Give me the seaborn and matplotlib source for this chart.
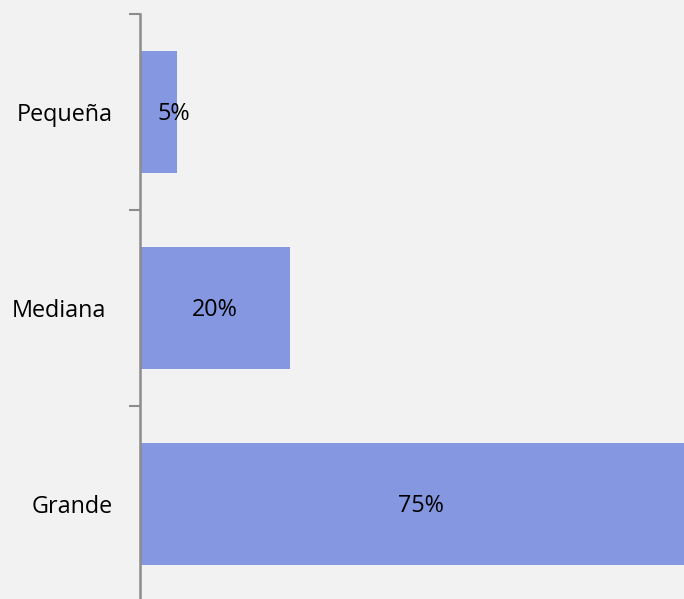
import matplotlib
matplotlib.use("Agg")
import matplotlib.pyplot as plt
import matplotlib.transforms as mtransforms
import seaborn as sns
import pandas as pd

categories = ["Pequeña", "Mediana", "Grande"]
values = [5, 20, 75]
labels = ["5%", "20%", "75%"]

sns.set_theme(style="white")
plt.rcParams['font.family'] = ['Open Sans', 'DejaVu Sans']

bg = "#f2f2f2"
bar_color = "#8497e0"

fig = plt.figure(figsize=(6.84, 5.99), dpi=100, facecolor=bg)
ax = fig.add_axes([139.5 / 684, -3 / 599, 1 - 139.5 / 684, 588 / 599])
ax.set_facecolor(bg)

df = pd.DataFrame({"cat": categories, "val": values})
sns.barplot(data=df, x="val", y="cat", color=bar_color, saturation=1,
            width=0.62, ax=ax, orient="h", linewidth=0, edgecolor="none")

ax.set_xlim(0, 72.5)
ax.set_ylim(2.5, -0.5)
label_shift_px = [15, 0, 0]
for i, (v, lab) in enumerate(zip(values, labels)):
    ax.annotate(lab, xy=(v / 2, i), xytext=(label_shift_px[i] * 0.72, -1.5),
                textcoords="offset points", ha="center", va="center",
                fontsize=16.8, color="black")

for s in ["top", "right", "bottom"]:
    ax.spines[s].set_visible(False)
ax.spines["left"].set_color("#8c8c8c")
ax.spines["left"].set_linewidth(1.8)

ax.set_xticks([])
ax.set_yticks([0, 1, 2])
ax.set_yticklabels(categories, fontsize=16.8, color="black")
ax.set_yticks([-0.5, 0.5, 1.5, 2.5], minor=True)
ax.tick_params(axis="y", which="major", length=0, pad=19.4, labelcolor="black")
ax.tick_params(axis="y", which="minor", length=8, width=1.5, color="#8c8c8c", left=True)
ax.set_xlabel("")
ax.set_ylabel("")

tick_shift_px = [0, -6, 0]
for lbl, dx in zip(ax.get_yticklabels(), tick_shift_px):
    lbl.set_transform(lbl.get_transform() + mtransforms.ScaledTranslation(dx / 100, 0, fig.dpi_scale_trans))

fig.savefig("out.png", dpi=100, facecolor=bg)
